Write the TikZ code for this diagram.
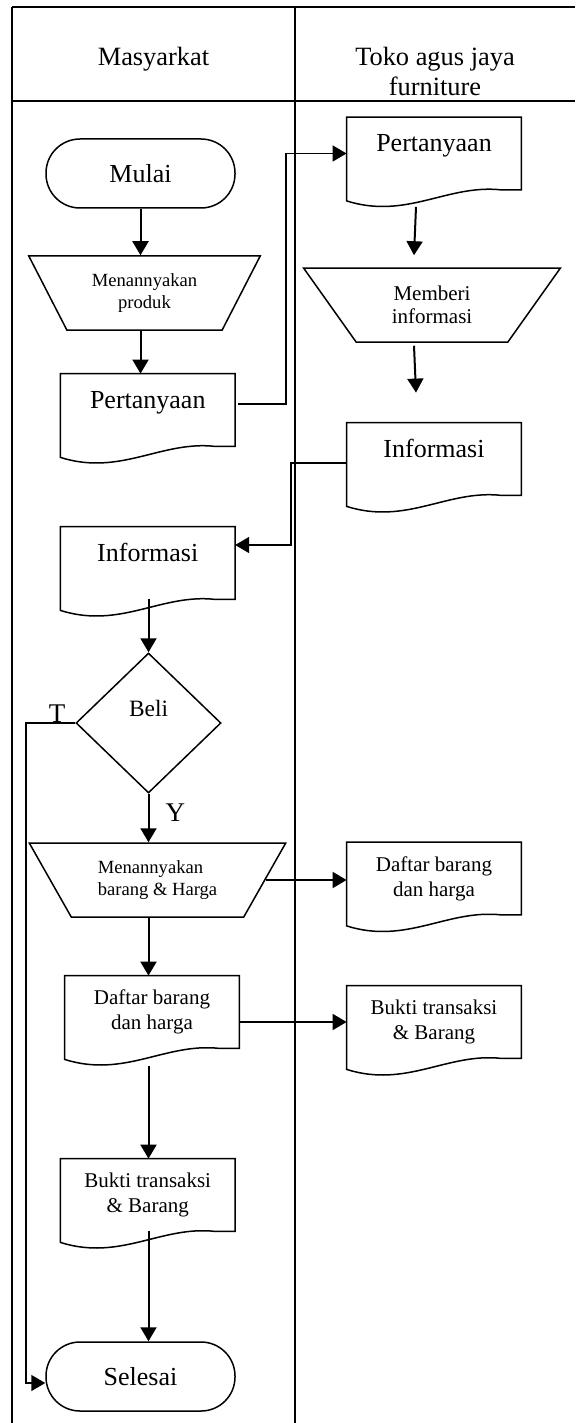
\documentclass[tikz,border=0pt]{standalone}
\usepackage{fontspec}
\setmainfont{Liberation Serif}
\usetikzlibrary{arrows.meta,shapes.geometric}

\tikzset{
  frame/.style={line width=1pt},
  shapeline/.style={draw, line width=0.75pt},
  terminal/.style={shapeline, rectangle, rounded corners=17pt, minimum width=94.5pt,
    minimum height=34.5pt, font=\fontsize{13}{15}\selectfont},
  doc/.style={rectangle, minimum width=87pt, minimum height=36pt, inner sep=1pt,
    align=center, font=\fontsize{10.5}{12.4}\selectfont},
  bigdoc/.style={doc, font=\fontsize{13}{15}\selectfont, text height=9pt, text depth=11pt},
  manual/.style={shapeline, trapezium, shape border rotate=180, trapezium stretches=true,
    minimum height=37pt, inner sep=1pt, align=center},
  decision/.style={shapeline, diamond, minimum width=72.5pt, minimum height=70pt,
    inner sep=0pt, font=\fontsize{11.7}{14}\selectfont, text depth=15pt},
  flow/.style={line width=1pt, -{Triangle[width=8pt,length=7pt]}},
  link/.style={line width=0.8pt},
  lbl/.style={font=\fontsize{13.5}{16}\selectfont, inner sep=0pt}
}

% document symbol with a wavy bottom edge
\newcommand{\docoutline}[1]{%
  \draw[line width=0.75pt] ([yshift=-5.5pt]#1.south west)
    .. controls +(30pt,-9.5pt) and +(-27pt,3pt) .. ([xshift=-10pt]#1.south east)
    -- (#1.south east) -- (#1.north east) -- (#1.north west) -- cycle;}

\begin{document}
\begin{tikzpicture}[x=0.5pt,y=-0.5pt]
  \useasboundingbox (0,0) rectangle (575,1423);

  % lanes
  \draw[frame] (12,7) -- (575,7);
  \draw[frame] (12,101) -- (575,101);
  \draw[frame] (12,7) -- (12,1423);
  \draw[frame] (295,7) -- (295,1423);

  \node[anchor=north, inner sep=0pt, font=\fontsize{13.2}{15}\selectfont] (lanewarga) at (153.5,47) {Masyarkat};
  \node[anchor=north, inner sep=0pt, align=center, font=\fontsize{13.2}{15}\selectfont] (lanetoko) at (435,47) {Toko agus jaya\\furniture};

  % masyarakat
  \node[terminal] (mulai) at (140.5,173.5) {Mulai};
  \node[manual, trapezium left angle=58, trapezium right angle=58, minimum width=116.5pt,
    font=\fontsize{9.3}{11}\selectfont] (tanyaproduk) at (144.5,293) {Menannyakan\\produk};
  \node[bigdoc] (tanya1) at (147.75,410) {Pertanyaan};
  \node[bigdoc] (info1) at (147.75,563) {Informasi};
  \node[decision] (beli) at (148.5,723) {Beli};
  \node[manual, trapezium left angle=55, trapezium right angle=55, minimum width=129.5pt,
    align=left, font=\fontsize{9.3}{11}\selectfont] (tanyabarang) at (157.5,880) {Menannyakan\\barang \& Harga};
  \node[doc] (daftar1) at (152,1012) {Daftar barang\\dan harga};
  \node[doc] (bukti1) at (147.75,1195) {Bukti transaksi\\\& Barang};
  \node[terminal] (selesai) at (140.5,1376.5) {Selesai};

  % toko
  \node[bigdoc] (tanya2) at (434,153.5) {Pertanyaan};
  \node[manual, trapezium left angle=55, trapezium right angle=55, minimum width=129.25pt,
    font=\fontsize{10.5}{11.5}\selectfont] (memberi) at (432,305) {Memberi\\informasi};
  \node[bigdoc] (info2) at (434,459) {Informasi};
  \node[doc] (daftar2) at (434,878.5) {Daftar barang\\dan harga};
  \node[doc] (bukti2) at (434,1022) {Bukti transaksi\\\& Barang};

  \docoutline{tanya1}
  \docoutline{info1}
  \docoutline{daftar1}
  \docoutline{bukti1}
  \docoutline{tanya2}
  \docoutline{info2}
  \docoutline{daftar2}
  \docoutline{bukti2}

  % alur
  \draw[flow] (mulai.south) -- (mulai.south |- tanyaproduk.north);
  \draw[flow] (mulai.south |- tanyaproduk.south) -- (mulai.south |- tanya1.north);
  \draw[flow, link] ([xshift=1.5pt,yshift=3pt]tanya1.east) -- ++(24pt,0) |- (tanya2.west);
  \draw[flow] ([shift={(-9pt,-8.5pt)}]tanya2.south) -- ([xshift=-9pt,yshift=6pt]memberi.north);
  \draw[flow] ([shift={(-9pt,-1.5pt)}]memberi.south) -- ([xshift=-9pt,yshift=15pt]info2.north);
  \draw[flow, link] ([yshift=-2pt]info2.west) -- ++(-27.75pt,0) |- ([yshift=9pt]info1.east);

  \draw[flow] (info1.south -| beli) -- (beli.north);
  \draw[flow] (beli.south) -- node[lbl, right, pos=0.4, xshift=8pt] (ya) {Y} (beli.south |- tanyabarang.north);
  \draw[flow, link] (beli.west) -- node[lbl, above, pos=0.37] (tidak) {T} ++(-24.5pt,0)
    |- ([yshift=-3.25pt]selesai.west);

  \draw[flow] (tanyabarang.south -| beli) -- (daftar1.north -| beli);
  \draw[flow] (tanyabarang.east) -- (tanyabarang.east -| daftar2.west);
  \draw[flow, shorten <=9pt] (daftar1.south -| beli) -- (bukti1.north -| beli);
  \draw[flow] (bukti2.west -| daftar1.east) -- (bukti2.west);
  \draw[flow] (bukti1.south -| beli) -- (selesai.north -| beli);

\end{tikzpicture}
\end{document}
